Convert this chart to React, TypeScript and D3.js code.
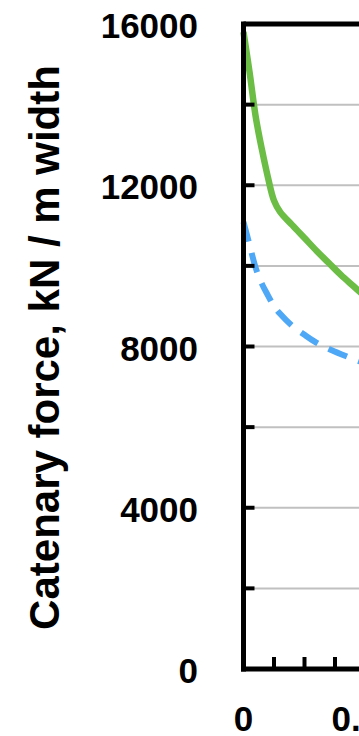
import React from "react";
import * as d3 from "d3";

// readings
const xValues = [0, 0.01, 0.02, 0.03, 0.04, 0.05, 0.06, 0.08, 0.1, 0.12, 0.14, 0.16, 0.18, 0.2];
const greenForce = [15800, 14800, 13700, 12900, 12200, 11620, 11340, 11010, 10690, 10370, 10070, 9770, 9500, 9230];
const blueForce = [11090, 10520, 9950, 9560, 9270, 9000, 8810, 8510, 8290, 8090, 7940, 7810, 7690, 7580];
const yTicks = [0, 4000, 8000, 12000, 16000];
const yGrid = [2000, 4000, 6000, 8000, 10000, 12000, 14000];
const xMinor = [0.05, 0.1, 0.15];
const xLabels = [0, 0.2];
const xLabelText = ["0", "0.20"];

const W = 359;
const H = 736;
const font = "'Liberation Sans', Arial, Helvetica, sans-serif";

export default function App() {
  const x = d3.scaleLinear().domain([0, 0.05]).range([243.5, 274]);
  const y = d3.scaleLinear().domain([0, 16000]).range([669, 24]);

  const lineOf = (vals: number[]) =>
    d3
      .line<number>()
      .x((d, i) => x(xValues[i]))
      .y((d) => y(d))
      .curve(d3.curveCatmullRom.alpha(0.5))(vals) || "";

  const x0 = x(0);
  const xRight = W + 10;

  return (
    <svg
      width={W}
      height={H}
      style={{ position: "absolute", left: 0, top: 0, background: "#fff" }}
    >
      {/* gridlines */}
      {yGrid.map((v) => (
        <line key={"g" + v} x1={x0} x2={xRight} y1={y(v)} y2={y(v)} stroke="#c0c0c0" strokeWidth={2} />
      ))}

      {/* series */}
      <path d={lineOf(blueForce)} fill="none" stroke="#4fa8f5" strokeWidth={6} strokeDasharray="20 12" />
      <path d={lineOf(greenForce)} fill="none" stroke="#6cbd45" strokeWidth={6.5} />

      {/* frame / axes */}
      <line x1={x0} x2={xRight} y1={y(16000)} y2={y(16000)} stroke="#000" strokeWidth={5} />
      <line x1={x0} x2={x0} y1={y(16000) - 2.5} y2={y(0) + 2.5} stroke="#000" strokeWidth={5} />
      <line x1={x0 - 2.5} x2={xRight} y1={y(0)} y2={y(0)} stroke="#000" strokeWidth={5} />

      {yGrid.map((v) => (
        <line key={"t" + v} x1={x0} x2={x0 + 11} y1={y(v)} y2={y(v)} stroke="#000" strokeWidth={4} />
      ))}
      {xMinor.map((v) => (
        <line key={"m" + v} x1={x(v)} x2={x(v)} y1={y(0)} y2={y(0) - 12} stroke="#000" strokeWidth={4} />
      ))}

      {/* tick labels */}
      {yTicks.map((v) => (
        <text
          key={"yl" + v}
          x={198}
          y={y(v) + 14}
          textAnchor="end"
          fontFamily={font}
          fontWeight="bold"
          fontSize={35}
          fill="#000"
        >
          {v}
        </text>
      ))}
      {xLabels.map((v, i) => (
        <text
          key={"xl" + v}
          x={x(v)}
          y={731}
          textAnchor="middle"
          fontFamily={font}
          fontWeight="bold"
          fontSize={35}
          fill="#000"
        >
          {xLabelText[i]}
        </text>
      ))}

      <text
        transform="translate(59,347.5) rotate(-90)"
        textAnchor="middle"
        fontFamily={font}
        fontWeight="bold"
        fontSize={42}
        fill="#000"
      >
        Catenary force, kN / m width
      </text>
    </svg>
  );
}
